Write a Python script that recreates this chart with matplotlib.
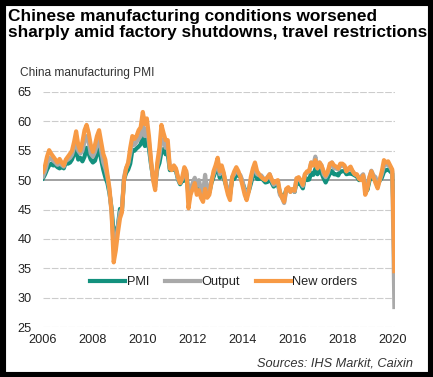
import numpy as np
import pandas as pd
import matplotlib
matplotlib.use("Agg")
import matplotlib.pyplot as plt
from matplotlib.patches import Rectangle

plt.rcParams['font.family'] = ['Liberation Sans', 'DejaVu Sans']

# monthly readings, Jan 2006 - Feb 2020
pmi = [
    50.3, 51.0, 51.8, 52.5, 52.8, 52.5, 52.6, 52.2, 52.0, 52.3, 52.0, 53.0,
    52.8, 53.0, 53.5, 54.5, 55.0, 53.5, 53.8, 53.2, 54.0, 55.5, 54.5, 53.5,
    53.0, 53.3, 54.5, 55.5, 53.5, 51.8, 50.5, 49.5, 47.7, 45.2, 40.9, 41.2,
    42.2, 45.1, 44.8, 50.1, 51.2, 51.8, 52.8, 55.1, 55.0, 55.4, 55.7, 56.1,
    57.4, 55.8, 57.0, 55.4, 52.7, 50.4, 49.4, 51.9, 52.9, 54.8, 55.3, 54.4,
    54.5, 51.7, 51.8, 51.8, 51.6, 50.1, 49.3, 49.9, 49.9, 51.0, 47.7, 48.7,
    48.8, 49.6, 48.3, 49.3, 48.4, 48.2, 49.3, 47.6, 47.9, 49.5, 50.5, 51.5,
    52.3, 50.4, 51.6, 50.4, 49.2, 48.2, 47.7, 50.1, 50.2, 50.9, 50.8, 50.5,
    49.5, 48.5, 48.0, 48.1, 49.4, 50.7, 51.7, 50.2, 50.2, 50.4, 50.0, 49.6,
    49.7, 50.7, 49.6, 48.9, 49.2, 49.4, 47.8, 47.3, 47.2, 48.3, 48.6, 48.2,
    48.4, 48.0, 49.7, 49.4, 49.2, 48.6, 50.6, 50.0, 50.1, 51.2, 50.9, 51.9,
    51.0, 51.7, 51.2, 50.3, 49.6, 50.4, 51.1, 51.6, 51.0, 51.0, 50.8, 51.5,
    51.5, 51.6, 51.0, 51.1, 51.1, 51.0, 50.8, 50.6, 50.0, 50.1, 50.2, 49.7,
    48.3, 49.9, 50.8, 50.2, 50.2, 49.4, 49.9, 50.4, 51.4, 51.7, 51.8, 51.5,
    51.1, 40.3,
]
output = [
    50.6, 51.5, 52.8, 53.8, 53.6, 53.3, 53.0, 52.6, 52.8, 52.6, 52.3, 53.3,
    53.5, 53.8, 54.3, 55.5, 57.0, 55.0, 54.5, 55.0, 56.5, 57.5, 56.5, 54.5,
    54.0, 54.8, 56.0, 57.0, 55.0, 53.0, 52.0, 50.5, 48.0, 44.5, 38.5, 39.5,
    42.0, 44.5, 45.0, 50.5, 52.0, 52.8, 54.5, 56.5, 56.0, 56.5, 57.0, 57.5,
    59.5, 57.5, 58.8, 56.5, 53.0, 50.2, 48.8, 52.5, 54.2, 57.0, 56.8, 55.5,
    55.8, 52.0, 51.8, 52.2, 51.8, 50.2, 49.5, 50.2, 51.2, 51.2, 47.0, 48.5,
    49.5, 50.4, 49.0, 50.0, 48.5, 47.8, 50.9, 48.0, 48.5, 50.0, 51.0, 52.0,
    53.0, 51.0, 52.0, 51.0, 49.5, 48.2, 47.5, 50.5, 51.0, 51.8, 51.2, 50.8,
    49.8, 48.0, 47.5, 48.5, 50.0, 51.5, 52.5, 51.0, 50.8, 50.8, 50.3, 50.0,
    50.5, 51.0, 50.0, 49.2, 49.5, 49.8, 47.5, 47.0, 46.1, 48.2, 48.6, 48.0,
    48.3, 48.0, 50.3, 50.3, 49.8, 49.0, 51.0, 51.2, 51.5, 53.0, 52.5, 54.0,
    52.0, 53.0, 52.5, 51.0, 50.5, 51.2, 52.5, 53.0, 52.0, 52.0, 51.8, 52.5,
    52.5, 52.3, 51.5, 51.8, 52.0, 51.5, 51.0, 50.8, 50.4, 50.6, 51.0, 49.5,
    48.8, 50.5, 51.6, 50.8, 50.5, 49.0, 50.0, 51.0, 52.5, 52.6, 52.8, 52.2,
    51.5, 28.4,
]
new_orders = [
    51.4, 52.5, 54.0, 55.1, 54.5, 54.0, 53.5, 53.0, 53.6, 53.0, 52.5, 53.5,
    54.0, 54.5, 55.0, 56.5, 58.3, 56.0, 55.0, 56.5, 58.5, 59.4, 58.0, 56.0,
    54.8, 56.0, 57.5, 58.5, 56.5, 54.5, 53.5, 51.0, 48.5, 44.5, 36.0, 38.0,
    41.0, 43.5, 44.5, 50.0, 52.0, 53.0, 55.5, 57.5, 57.0, 57.5, 58.5, 59.0,
    61.6, 59.5, 60.5, 57.5, 53.5, 50.0, 48.3, 53.0, 55.5, 59.4, 58.0, 56.8,
    56.8, 52.0, 51.7, 52.5, 52.0, 50.5, 49.5, 50.5, 52.2, 51.5, 45.2, 47.5,
    48.5, 49.5, 47.5, 48.3, 47.0, 46.3, 48.5, 47.0, 47.5, 49.5, 51.5, 52.5,
    53.8, 51.5, 52.5, 51.2, 49.0, 47.5, 46.6, 50.5, 51.5, 52.2, 51.5, 50.5,
    49.0, 47.5, 46.6, 48.0, 50.5, 52.0, 53.0, 51.5, 51.0, 50.5, 50.2, 50.0,
    50.5, 51.0, 50.2, 49.5, 49.8, 50.0, 48.0, 47.0, 46.3, 48.5, 48.8, 48.0,
    48.5, 48.2, 50.3, 50.5, 50.0, 49.2, 51.0, 51.5, 51.5, 53.0, 52.5, 53.4,
    52.0, 53.0, 52.5, 51.5, 50.8, 51.5, 52.8, 53.0, 52.5, 52.3, 52.0, 52.8,
    52.8, 52.5, 51.5, 52.0, 52.3, 51.5, 51.0, 51.0, 50.2, 50.0, 50.8, 47.5,
    48.5, 50.5, 51.5, 50.5, 49.5, 48.6, 50.0, 51.5, 53.4, 53.0, 53.2, 52.5,
    51.8, 34.5,
]
years = list(range(2006, 2021, 2))
y_ticks = [25, 30, 35, 40, 45, 50, 55, 60, 65]

dates = pd.date_range("2006-01-01", periods=len(pmi), freq="MS")

W, H = 433, 377
fig = plt.figure(figsize=(W / 100, H / 100), dpi=100)
fig.patch.set_facecolor("white")
ax = fig.add_axes([43 / W, (H - 327) / H, 352 / W, 235 / H])

for v in y_ticks:
    if v == 50:
        ax.axhline(v, color="#9a9a9a", lw=1.3, zorder=1)
    else:
        ax.axhline(v, color="#cccccc", lw=0.8, ls=(0, (6, 1.5)), zorder=1)

ax.plot(dates, pmi, color="#13917e", lw=3.0, label="PMI", zorder=3, solid_joinstyle="round")
ax.plot(dates, output, color="#a9a9a9", lw=3.0, label="Output", zorder=4, solid_joinstyle="round")
ax.plot(dates, new_orders, color="#f79a45", lw=3.0, label="New orders", zorder=5, solid_joinstyle="round")

ax.set_ylim(25, 65)
ax.set_xlim(pd.Timestamp("2006-01-01"), pd.Timestamp("2020-02-10"))
ax.set_yticks(y_ticks)
ax.set_xticks([pd.Timestamp(f"{y}-01-01") for y in years])
ax.set_xticklabels([str(y) for y in years])
ax.tick_params(length=0, labelsize=9.2, colors="#222222")
ax.tick_params(axis="x", pad=5)
ax.tick_params(axis="y", pad=8)
for s in ax.spines.values():
    s.set_visible(False)

leg = ax.legend(loc="center", bbox_to_anchor=(0.514, 0.19), ncol=3, frameon=False,
                fontsize=9.2, handlelength=2.75, handletextpad=0.1, columnspacing=1.25)
for t in leg.get_texts():
    t.set_color("#222222")

fig.text(8 / W, 1 - 9 / H, "Chinese manufacturing conditions worsened\nsharply amid factory shutdowns, travel restrictions",
         ha="left", va="top", fontsize=12.4, fontweight="bold", color="black", linespacing=1.1)
fig.text(20 / W, 1 - 73 / H, "China manufacturing PMI", ha="left", va="center",
         fontsize=8.6, color="#333333")
fig.text(413 / W, 1 - 364 / H, "Sources: IHS Markit, Caixin", ha="right", va="center",
         fontsize=9.2, style="italic", color="#333333")

fig.patches.append(Rectangle((0, 0), 1, 1, transform=fig.transFigure, fill=False,
                             edgecolor="black", lw=8, zorder=10))

fig.savefig("out.png", dpi=100)
